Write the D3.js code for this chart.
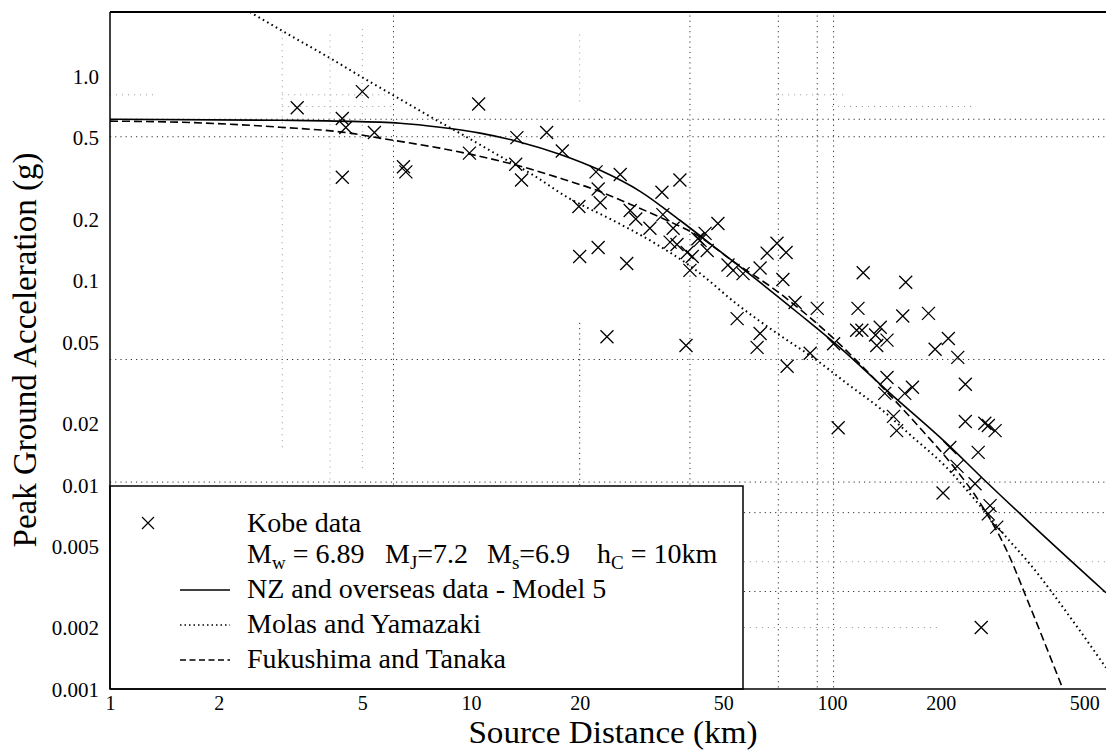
<!DOCTYPE html>
<html><head><meta charset="utf-8">
<script src="https://cdn.jsdelivr.net/npm/d3@7"></script>
<style>
html,body{margin:0;padding:0;background:#fff;}
svg text{font-family:"Liberation Serif","Times New Roman",serif;fill:#000;}
</style></head><body>
<svg id="chart" width="1106" height="751"></svg>
<script>
// ---------- data ----------
const xTickValues = [1, 2, 5, 10, 20, 50, 100, 200, 500];
const xTickLabels = ["1", "2", "5", "10", "20", "50", "100", "200", "500"];
const yTickValues = [1.0, 0.5, 0.2, 0.1, 0.05, 0.02, 0.01, 0.005, 0.002, 0.001];
const yTickLabels = ["1.0", "0.5", "0.2", "0.1", "0.05", "0.02", "0.01", "0.005", "0.002", "0.001"];

// Kobe data (source distance km, PGA g)
const kobeDistance = [3.3,4.4,4.5,5.0,5.4,4.4,6.5,6.6,10.5,9.9,13.4,16.2,13.3,13.8,17.9,22.2,25.9,37.9,22.5,33.8,
  19.9,22.8,27.6,28.6,34.0,36.3,31.3,48.3,44.5,42.5,43.1,35.6,37.2,39.7,41.0,45.1,40.4,22.5,20.0,27.0,
  51.5,53.2,56.7,63.2,66.1,70.4,74.6,73.1,79.0,54.6,63.2,62.0,23.8,39.4,75.1,122,160,91,118,157,
  185,117,121,136,132,142,133,210,193,223,101,87,234,142,167,159,140,104,148,151,
  234,265,271,283,212,254,222,249,203,274,271,286,259];
const kobePGA = [0.70,0.62,0.56,0.84,0.53,0.32,0.36,0.34,0.73,0.42,0.50,0.53,0.37,0.31,0.43,0.34,0.33,0.31,0.28,0.27,
  0.23,0.24,0.22,0.20,0.21,0.18,0.18,0.19,0.17,0.16,0.157,0.154,0.150,0.137,0.131,0.140,0.112,0.145,0.131,0.121,
  0.119,0.112,0.108,0.115,0.136,0.152,0.137,0.101,0.078,0.065,0.055,0.047,0.053,0.048,0.038,0.109,0.098,0.073,0.073,0.067,
  0.069,0.057,0.057,0.059,0.054,0.051,0.048,0.052,0.046,0.042,0.049,0.044,0.031,0.0335,0.030,0.028,0.028,0.019,0.0216,0.0184,
  0.0204,0.020,0.0195,0.0184,0.0152,0.0144,0.0123,0.0101,0.0091,0.0079,0.0072,0.0062,0.0020];

// NZ and overseas data - Model 5 (solid)
const model5Distance = [1, 2.96, 4.34, 6.36, 8.2, 10.6, 13.7, 17.6, 22.8, 29.4, 37.9, 48.9, 63.2, 81.5, 105, 142, 208, 262, 353, 574];
const model5PGA = [0.615, 0.608, 0.602, 0.588, 0.562, 0.526, 0.475, 0.415, 0.346, 0.273, 0.197, 0.139, 0.0978, 0.0681, 0.0470, 0.0289, 0.0159, 0.0107, 0.00651, 0.00296];

// Molas and Yamazaki (dotted)
const molasDistance = [2.44, 3.01, 4.15, 5.15, 6.08, 7.85, 9.75, 11.5, 14.9, 18.5, 24.7, 31.9, 41.2, 55.6, 71.8, 88.6, 110, 136, 168, 208, 257, 305, 353, 465, 574];
const molasPGA = [2.06, 1.66, 1.20, 0.956, 0.807, 0.622, 0.502, 0.424, 0.327, 0.255, 0.197, 0.154, 0.115, 0.0745, 0.0538, 0.0419, 0.0313, 0.0236, 0.0170, 0.0121, 0.00789, 0.00550, 0.00410, 0.00215, 0.00127];

// Fukushima and Tanaka (dashed)
const fukuDistance = [1, 1.56, 2.96, 4.62, 5.60, 8.20, 9.94, 13.4, 18.0, 22.3, 27.6, 34.0, 43.1, 52.2, 71.8, 101, 145, 175, 216, 257, 305, 353, 436];
const fukuPGA = [0.602, 0.595, 0.562, 0.526, 0.497, 0.444, 0.415, 0.366, 0.313, 0.276, 0.236, 0.201, 0.163, 0.127, 0.0863, 0.0520, 0.0273, 0.0190, 0.0124, 0.00816, 0.00475, 0.00255, 0.001];

// background dotted grid of the original graph paper
const gridV = [[6.1,2.1,0.001],[40.4,2.1,0.001],[71,2.1,0.001],[91,2.1,0.001],[101,2.1,0.001],[20,0.062,0.001]];
const gridH = [[0.615,1,600],[0.505,1,600],[0.041,1,600],[0.0103,1,600],[0.0073,57,600],[0.003,57,600]];
const faintV = [[3.0,1.64,0.015],[4.07,1.6,0.0105],[5.0,1.7,0.012],[20,1.6,0.75]];
const faintH = [[0.81,1,1.35],[0.81,3,5.9],[0.81,70,110],[0.71,3,6],[0.71,100,250],[0.0042,57,600],[0.002,57,200]];

// ---------- drawing ----------
const svg = d3.select("#chart");
const L = 110, R = 1106, T = 12, B = 689;
const x = d3.scaleLog().domain([1, 574]).range([L, R]);
const y = d3.scaleLog().domain([0.001, 2.06]).range([B, T]);

svg.append("defs").append("clipPath").attr("id", "plotclip")
  .append("rect").attr("x", L).attr("y", T).attr("width", R - L).attr("height", B - T);

const plot = svg.append("g").attr("clip-path", "url(#plotclip)");

// grid
const gg = plot.append("g").attr("fill", "none");
gg.selectAll("line.fv").data(faintV).join("line")
  .attr("x1", d => x(d[0])).attr("x2", d => x(d[0])).attr("y1", d => y(d[1])).attr("y2", d => y(d[2]))
  .attr("stroke", "#999").attr("stroke-width", 1).attr("stroke-dasharray", "1,5");
gg.selectAll("line.fh").data(faintH).join("line")
  .attr("y1", d => y(d[0])).attr("y2", d => y(d[0])).attr("x1", d => x(d[1])).attr("x2", d => x(d[2]))
  .attr("stroke", "#999").attr("stroke-width", 1).attr("stroke-dasharray", "1,5");
gg.selectAll("line.gv").data(gridV).join("line")
  .attr("x1", d => x(d[0])).attr("x2", d => x(d[0])).attr("y1", d => y(d[1])).attr("y2", d => y(d[2]))
  .attr("stroke", "#333").attr("stroke-width", 1).attr("stroke-dasharray", "1.2,4");
gg.selectAll("line.gh").data(gridH).join("line")
  .attr("y1", d => y(d[0])).attr("y2", d => y(d[0])).attr("x1", d => x(d[1])).attr("x2", d => x(d[2]))
  .attr("stroke", "#333").attr("stroke-width", 1).attr("stroke-dasharray", "1.2,4");

// curves
const line = d3.line().x(d => x(d[0])).y(d => y(d[1])).curve(d3.curveMonotoneX);
const series = [
  {d: model5Distance, v: model5PGA, dash: null, w: 1.6},
  {d: molasDistance, v: molasPGA, dash: "1.6,3.4", w: 2},
  {d: fukuDistance, v: fukuPGA, dash: "8,4", w: 1.6}
];
series.forEach(s => {
  plot.append("path").datum(d3.zip(s.d, s.v)).attr("d", line)
    .attr("fill", "none").attr("stroke", "#000").attr("stroke-width", s.w)
    .attr("stroke-dasharray", s.dash);
});

// markers
const cross = "M-6.5,-6.5L6.5,6.5M-6.5,6.5L6.5,-6.5";
plot.append("g").selectAll("path").data(d3.zip(kobeDistance, kobePGA)).join("path")
  .attr("transform", d => `translate(${x(d[0])},${y(d[1])})`)
  .attr("d", cross).attr("stroke", "#000").attr("stroke-width", 1.3).attr("fill", "none");

// legend
const lg = svg.append("g");
lg.append("rect").attr("x", L).attr("y", 486).attr("width", 633).attr("height", B - 486)
  .attr("fill", "#fff").attr("stroke", "#000").attr("stroke-width", 1.5);
lg.append("path").attr("transform", "translate(148,523)").attr("d", "M-6,-6L6,6M-6,6L6,-6")
  .attr("stroke", "#000").attr("stroke-width", 1.2);
const fs = 28;
lg.append("text").attr("x", 247).attr("y", 532).attr("font-size", fs).text("Kobe data");
const mt = lg.append("text").attr("y", 563).attr("font-size", fs);
const subParts = [
  {x: 247, a: "M", s: "w", b: " = 6.89"},
  {x: 385, a: "M", s: "J", b: "=7.2"},
  {x: 487, a: "M", s: "s", b: "=6.9"},
  {x: 597, a: "h", s: "C", b: " = 10km"}
];
subParts.forEach(p => {
  mt.append("tspan").attr("x", p.x).attr("y", 563).text(p.a);
  mt.append("tspan").attr("dy", 6).attr("font-size", 19).text(p.s);
  mt.append("tspan").attr("dy", -6).text(p.b);
});
const legendRows = [
  {label: "NZ and overseas data - Model 5", y: 598, dash: null, w: 1.4},
  {label: "Molas and Yamazaki", y: 633, dash: "1.5,3", w: 1.4},
  {label: "Fukushima and Tanaka", y: 668, dash: "6,3.5", w: 1.4}
];
legendRows.forEach(r => {
  lg.append("line").attr("x1", 180).attr("x2", 230).attr("y1", r.y - 8).attr("y2", r.y - 8)
    .attr("stroke", "#000").attr("stroke-width", r.w).attr("stroke-dasharray", r.dash);
  lg.append("text").attr("x", 247).attr("y", r.y).attr("font-size", fs).text(r.label);
});

// frame
svg.append("line").attr("x1", L).attr("x2", R).attr("y1", T).attr("y2", T).attr("stroke", "#000").attr("stroke-width", 2);
svg.append("line").attr("x1", L).attr("x2", L).attr("y1", T).attr("y2", B).attr("stroke", "#000").attr("stroke-width", 1.5);
svg.append("line").attr("x1", L).attr("x2", R).attr("y1", B).attr("y2", B).attr("stroke", "#000").attr("stroke-width", 1.5);

// axes labels
const xAxis = d3.axisBottom(x).tickValues(xTickValues).tickSize(0).tickPadding(0)
  .tickFormat((d, i) => xTickLabels[i]);
const gx = svg.append("g").attr("transform", `translate(0,${B})`).call(xAxis);
gx.select(".domain").remove();
gx.selectAll("text").attr("font-size", 20).attr("dy", null).attr("y", 21)
  .style("font-family", '"Liberation Serif","Times New Roman",serif').attr("fill", "#000");

const yAxis = d3.axisLeft(y).tickValues(yTickValues).tickSize(0).tickPadding(0)
  .tickFormat((d, i) => yTickLabels[i]);
const gy = svg.append("g").attr("transform", `translate(${L},0)`).call(yAxis);
gy.select(".domain").remove();
gy.selectAll("text").attr("font-size", 21).attr("x", -11).attr("dy", "0.35em")
  .style("font-family", '"Liberation Serif","Times New Roman",serif').attr("fill", "#000");

svg.append("text").attr("transform", "translate(613,743) scale(1.07,1)").attr("text-anchor", "middle").attr("font-size", 31)
  .text("Source Distance (km)");
svg.append("text").attr("transform", "translate(36,350) rotate(-90)").attr("text-anchor", "middle")
  .attr("font-size", 33).text("Peak Ground Acceleration (g)");
</script>
</body></html>
